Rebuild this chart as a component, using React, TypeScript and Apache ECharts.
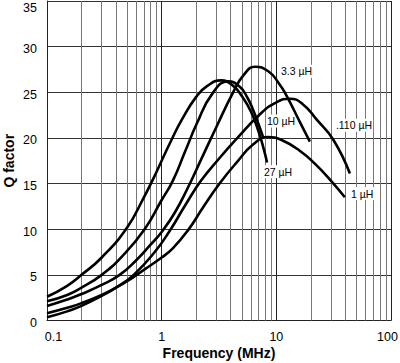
import React, { useEffect, useRef } from "react";
import * as echarts from "echarts";

// Frequency (MHz), Q factor pairs
const q27uH: number[][] = [
  [0.1, 2.6], [0.15, 3.8], [0.2, 5.0], [0.3, 6.9], [0.5, 10.2], [0.7, 13.5],
  [0.85, 15.6], [1.0, 17.5], [1.22, 19.8], [1.5, 22.0], [2.0, 24.5], [2.5, 25.7],
  [3.3, 26.3], [4.2, 25.7], [5.0, 24.6], [6.0, 22.9], [7.0, 20.7], [7.8, 18.7],
  [8.3, 17.3],
];
const q10uH: number[][] = [
  [0.1, 2.1], [0.15, 2.8], [0.2, 3.6], [0.3, 5.0], [0.45, 7.0], [0.71, 10.0],
  [1.0, 13.2], [1.25, 15.3], [1.6, 18.5], [2.03, 21.6], [2.75, 24.8], [3.8, 26.2],
  [4.8, 25.6], [5.6, 24.4], [6.3, 23.0], [7.0, 21.5], [7.7, 20.0],
];
const q3_3uH: number[][] = [
  [0.1, 1.6], [0.15, 2.3], [0.2, 2.9], [0.3, 3.9], [0.43, 5.0], [0.6, 6.6],
  [0.8, 8.3], [1.0, 9.7], [1.3, 11.8], [1.7, 14.6], [2.2, 17.6], [3.0, 21.2],
  [4.2, 25.0], [5.2, 26.9], [6.5, 27.8], [8.5, 27.3], [10.5, 26.0], [12.3, 24.6],
  [16.1, 21.7], [19.6, 19.6],
];
const q110nH: number[][] = [
  [0.1, 0.35], [0.15, 1.0], [0.2, 1.6], [0.3, 2.7], [0.4, 3.6], [0.57, 5.0],
  [0.87, 7.5], [1.2, 10.0], [1.6, 12.6], [2.2, 15.3], [3.2, 17.8], [4.5, 19.9],
  [7.2, 22.6], [10, 23.9], [13.1, 24.3], [17, 23.7], [22.5, 22.0], [31.4, 19.8],
  [43.8, 16.1],
];
const q1uH: number[][] = [
  [0.1, 0.8], [0.15, 1.4], [0.2, 1.9], [0.3, 2.8], [0.4, 3.6], [0.5, 4.3],
  [0.71, 5.6], [1.0, 6.9], [1.25, 7.9], [1.7, 9.9], [2.3, 12.4], [3.2, 15.0],
  [4.5, 17.3], [6.3, 19.3], [8.5, 20.1], [11, 19.8], [16, 18.6], [22, 17.1],
  [30, 15.3], [39.6, 13.5],
];

const seriesNames = ["27 µH", "10 µH", "3.3 µH", ".110 µH", "1 µH"];
const seriesData = [q27uH, q10uH, q3_3uH, q110nH, q1uH];
// label anchor (left-middle of text) in data coordinates
const labelAnchors: number[][] = [
  [7.64, 16.3], [8.12, 21.85], [10.75, 27.3], [32.4, 21.4], [43.8, 13.9],
];

const minorFreqs = [
  0.2, 0.3, 0.4, 0.5, 0.6, 0.7, 0.8, 0.9,
  2, 3, 4, 5, 6, 7, 8, 9,
  20, 30, 40, 50, 60, 70, 80, 90,
];
const xTicks = [0.1, 1, 10, 100];
const yMin = 0, yMax = 35, yStep = 5;

const FONT = "'Liberation Sans', Arial, Helvetica, sans-serif";

export default function App() {
  const ref = useRef<HTMLDivElement>(null);
  useEffect(() => {
    if (!ref.current) return;
    const chart = echarts.init(ref.current, undefined, { renderer: "svg" });
    const fmtX = (v: number) => {
      const s = String(Number(v.toPrecision(3)));
      if (Math.abs(v - xTicks[0]) < 1e-9) return "{min|" + s + "}";
      if (Math.abs(v - xTicks[xTicks.length - 1]) < 1e-6) return "{max|" + s + "}";
      return "{n|" + s + "}";
    };
    const curves = seriesData.map((d, i) => ({
      type: "line",
      name: seriesNames[i],
      data: d,
      smooth: 0.5,
      showSymbol: false,
      symbol: "none",
      z: 5,
      lineStyle: { color: "#000", width: 2.6 },
      markPoint: {
        silent: true,
        symbol: "circle",
        symbolSize: 0,
        data: [{ coord: labelAnchors[i], value: seriesNames[i] }],
        label: {
          show: true,
          position: [0, 0],
          align: "left",
          verticalAlign: "middle",
          formatter: seriesNames[i],
          color: "#000",
          fontSize: 10.5,
          fontFamily: FONT,
          backgroundColor: "#fff",
          padding: [1, 1, 1, 1],
        },
      },
    }));
    chart.setOption({
      animation: false,
      backgroundColor: "#fff",
      grid: { left: 47, right: 9, top: 1, bottom: 42.5, containLabel: false, outerBoundsMode: "none" },
      xAxis: {
        type: "log",
        logBase: 10,
        min: 0.1,
        max: 100,
        name: "Frequency (MHz)",
        nameLocation: "middle",
        nameGap: 25,
        nameMoveOverlap: false,
        nameTextStyle: { fontFamily: FONT, fontWeight: "bold", fontSize: 14, color: "#000" },
        axisLine: { show: true, lineStyle: { color: "#222", width: 1 } },
        axisTick: { show: false },
        axisLabel: {
          color: "#000",
          fontFamily: FONT,
          fontSize: 12.5,
          margin: 10,
          formatter: fmtX,
          rich: {
            min: { fontSize: 12.5, fontFamily: FONT, color: "#000", padding: [0, 0, 0, 13] },
            max: { fontSize: 12.5, fontFamily: FONT, color: "#000", padding: [0, 7, 0, 0] },
            n: { fontSize: 12.5, fontFamily: FONT, color: "#000" },
          },
        },
        splitLine: { show: true, lineStyle: { color: "#222", width: 1 } },
      },
      yAxis: {
        type: "value",
        min: yMin,
        max: yMax,
        interval: yStep,
        name: "Q factor",
        nameLocation: "middle",
        nameGap: 31,
        nameMoveOverlap: false,
        nameTextStyle: { fontFamily: FONT, fontWeight: "bold", fontSize: 14, color: "#000" },
        axisLine: { show: true, lineStyle: { color: "#222", width: 1 } },
        axisTick: { show: false },
        axisLabel: {
          color: "#000",
          fontFamily: FONT,
          fontSize: 12.5,
          margin: 10,
          formatter: (v: number) => (v === yMax ? "{top|" + v + "}" : "{n|" + v + "}"),
          rich: {
            top: { fontSize: 12.5, fontFamily: FONT, color: "#000", padding: [13, 0, 0, 0] },
            n: { fontSize: 12.5, fontFamily: FONT, color: "#000", padding: [5, 0, 0, 0] },
          },
        },
        splitLine: { show: true, lineStyle: { color: "#333", width: 1 } },
      },
      series: [
        {
          type: "line",
          data: [],
          z: 1,
          silent: true,
          markLine: {
            silent: true,
            symbol: ["none", "none"],
            label: { show: false },
            lineStyle: { color: "#777", width: 1, type: "solid" },
            data: minorFreqs.map((f) => ({ xAxis: f })),
          },
        },
        ...curves,
      ],
    });
    return () => chart.dispose();
  }, []);
  return (
    <div
      ref={ref}
      style={{ position: "fixed", left: 0, top: 0, width: 400, height: 363 }}
    />
  );
}
